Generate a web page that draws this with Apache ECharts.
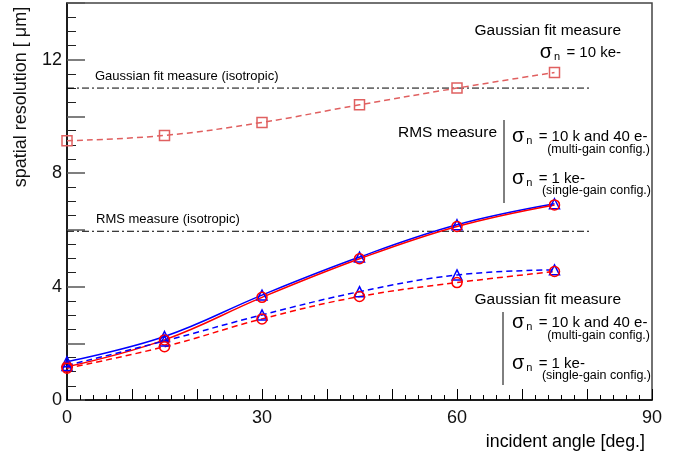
<!DOCTYPE html>
<html>
<head>
<meta charset="utf-8">
<script src="https://cdn.jsdelivr.net/npm/echarts@6/dist/echarts.min.js"></script>
<style>
  html, body { margin: 0; padding: 0; background: #fff; }
  #main { width: 681px; height: 457px; }
</style>
</head>
<body>
<div id="main"></div>
<script>
// incident angles [deg.]
var angles = [0, 15, 30, 45, 60, 75];
// Gaussian fit, sigma_n = 10 ke-
var gausSingle10k = [9.14, 9.33, 9.79, 10.41, 11.0, 11.55];
// RMS measure
var rmsMulti = [1.35, 2.24, 3.70, 5.04, 6.18, 6.92];
var rmsSingle = [1.17, 2.12, 3.62, 4.98, 6.12, 6.88];
// Gaussian fit measure
var gausMulti = [1.22, 2.08, 3.00, 3.82, 4.41, 4.59];
var gausSingle = [1.12, 1.88, 2.86, 3.65, 4.14, 4.53];
// isotropic references
var isoRange = [0, 80.5];
var gausIso = 11.0;
var rmsIso = 5.95;

var FONT = '"Liberation Sans", Arial, sans-serif';
var RED = '#ff0000', BLUE = '#0000ff', PINK = '#e06060';

function pairs(ys) {
    return angles.map(function (a, i) { return [a, ys[i]]; });
}
function flat(y) {
    return isoRange.map(function (a) { return [a, y]; });
}

function curve(name, ys, color, dashed, symbol) {
    return {
        name: name,
        type: 'line',
        data: pairs(ys),
        smooth: 0.4,
        symbol: symbol,
        symbolSize: 10,
        lineStyle: { color: color, width: 1.5, type: dashed ? [6, 4] : 'solid' },
        itemStyle: { color: 'transparent', borderColor: color, borderWidth: 1.5, opacity: 1 },
        z: 3
    };
}

// sigma_n: big sigma, small subscript n (negative bottom padding pushes glyph down)
var sigmaRich = {
    s: { font: '20px ' + FONT, fill: '#000', verticalAlign: 'bottom', lineHeight: 22, padding: [0, 0, -2, 0] },
    n: { font: '11px ' + FONT, fill: '#000', verticalAlign: 'bottom', lineHeight: 22, padding: [0, 2, -2, 2] },
    t: { font: '15px ' + FONT, fill: '#000', verticalAlign: 'bottom', lineHeight: 22 }
};

function sigmaText(x, y, rest, align) {
    return {
        type: 'text', x: x, y: y,
        style: {
            text: '{s|σ}{n|n}{t| = ' + rest + '}',
            align: align, textAlign: align,
            verticalAlign: 'middle', textVerticalAlign: 'middle',
            rich: sigmaRich
        }
    };
}
function plainText(x, y, txt, size, align) {
    return {
        type: 'text', x: x, y: y,
        style: {
            text: txt, font: size + 'px ' + FONT, fill: '#000',
            align: align, textAlign: align,
            verticalAlign: 'middle', textVerticalAlign: 'middle'
        }
    };
}
function vline(x, y1, y2) {
    return { type: 'line', shape: { x1: x, y1: y1, x2: x, y2: y2 }, style: { stroke: '#000', lineWidth: 1 } };
}

var chart = echarts.init(document.getElementById('main'));
chart.setOption({
    animation: false,
    backgroundColor: '#fff',
    grid: { left: 67, right: 29, top: 3, bottom: 57, show: true, borderColor: '#444', borderWidth: 1.5 },
    xAxis: {
        type: 'value', min: 0, max: 90, interval: 10,
        axisLine: { lineStyle: { color: '#000', width: 1.5 } },
        axisTick: { inside: true, length: 11, lineStyle: { color: '#000' } },
        minorTick: { show: true, splitNumber: 5, length: 5, lineStyle: { color: '#000' } },
        splitLine: { show: false },
        axisLabel: {
            margin: 9, fontSize: 18, fontFamily: FONT, color: '#111',
            formatter: function (v) { return v % 30 === 0 ? String(v) : ''; }
        }
    },
    yAxis: {
        type: 'value', min: 0, max: 14, interval: 2,
        axisLine: { lineStyle: { color: '#000', width: 1.5 } },
        axisTick: { inside: true, length: 18, lineStyle: { color: '#555', width: 1.5 } },
        minorTick: { show: true, splitNumber: 4, length: 9, lineStyle: { color: '#222' } },
        splitLine: { show: false },
        axisLabel: {
            margin: 5, fontSize: 18, fontFamily: FONT, color: '#111',
            formatter: function (v) { return v % 4 === 0 ? String(v) : ''; }
        }
    },
    series: [
        {
            name: 'Gaussian fit measure (isotropic)', type: 'line', data: flat(gausIso), symbol: 'none',
            lineStyle: { color: '#000', width: 1, type: [7, 3, 2, 3] }, z: 2
        },
        {
            name: 'RMS measure (isotropic)', type: 'line', data: flat(rmsIso), symbol: 'none',
            lineStyle: { color: '#000', width: 1, type: [7, 3, 2, 3] }, z: 2
        },
        curve('Gaussian fit 10 ke-', gausSingle10k, PINK, true, 'rect'),
        curve('RMS multi-gain', rmsMulti, BLUE, false, 'triangle'),
        curve('RMS single-gain', rmsSingle, RED, false, 'circle'),
        curve('Gaussian multi-gain', gausMulti, BLUE, true, 'triangle'),
        curve('Gaussian single-gain', gausSingle, RED, true, 'circle')
    ],
    graphic: [
        {
            type: 'text', x: 21, y: 97, rotation: Math.PI / 2,
            style: {
                text: 'spatial resolution [ μm]', font: '18px ' + FONT, fill: '#111',
                align: 'center', textAlign: 'center', verticalAlign: 'middle', textVerticalAlign: 'middle'
            }
        },
        plainText(645, 442, 'incident angle [deg.]', 17.8, 'right'),
        plainText(95, 76, 'Gaussian fit measure (isotropic)', 13, 'left'),
        plainText(96, 219, 'RMS measure (isotropic)', 13, 'left'),
        // top right
        plainText(621, 31, 'Gaussian fit measure', 15.5, 'right'),
        sigmaText(621, 49, '10 ke-', 'right'),
        // RMS block
        plainText(497, 133, 'RMS measure', 15.5, 'right'),
        vline(504, 120, 203),
        sigmaText(512, 133, '10 k and 40 e-', 'left'),
        plainText(650, 150, '(multi-gain config.)', 12.5, 'right'),
        sigmaText(512, 175, '1 ke-', 'left'),
        plainText(651, 191, '(single-gain config.)', 12.5, 'right'),
        // Gaussian block
        plainText(621, 300, 'Gaussian fit measure', 15.5, 'right'),
        vline(503, 312, 385),
        sigmaText(512, 319, '10 k and 40 e-', 'left'),
        plainText(650, 336, '(multi-gain config.)', 12.5, 'right'),
        sigmaText(512, 360, '1 ke-', 'left'),
        plainText(651, 376, '(single-gain config.)', 12.5, 'right')
    ]
});
</script>
</body>
</html>
